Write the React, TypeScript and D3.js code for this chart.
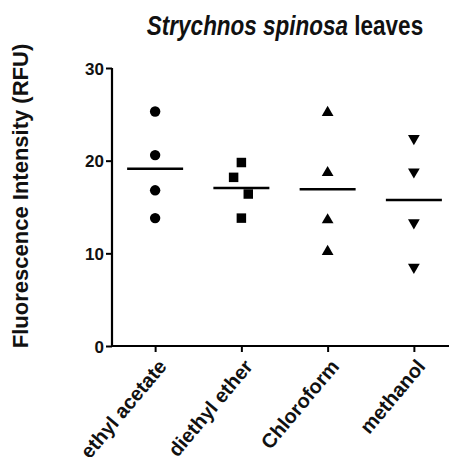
import React, { useEffect, useRef } from "react";
import * as d3 from "d3";

const categories = ["ethyl acetate", "diethyl ether", "Chloroform", "methanol"];
const ethylAcetate = [25.3, 20.6, 16.8, 13.8];
const diethylEther = [19.8, 18.2, 16.4, 13.8];
const chloroform = [25.2, 18.7, 13.6, 10.2];
const methanol = [22.4, 18.8, 13.3, 8.5];
// small sideways offsets where points overlap, in step units
const etherJitter = [0, -0.09, 0.08, 0];
const yTicks = [0, 10, 20, 30];

const W = 449;
const H = 457;
const margin = { top: 68, right: -8, bottom: 111, left: 112 };

const App = () => {
  const svgRef = useRef<SVGSVGElement>(null);

  useEffect(() => {
    const svg = d3.select(svgRef.current);
    svg.selectAll("*").remove();

    const series = [
      { name: categories[0], values: ethylAcetate, symbol: d3.symbolCircle, jitter: [0, 0, 0, 0], size: 85 },
      { name: categories[1], values: diethylEther, symbol: d3.symbolSquare, jitter: etherJitter, size: 90 },
      { name: categories[2], values: chloroform, symbol: d3.symbolTriangle, jitter: [0, 0, 0, 0], size: 60 },
      { name: categories[3], values: methanol, symbol: d3.symbolTriangle, jitter: [0, 0, 0, 0], size: 60, flip: true },
    ];

    const x = d3
      .scalePoint()
      .domain(categories)
      .range([margin.left, W - margin.right])
      .padding(0.5);

    const y = d3
      .scaleLinear()
      .domain([0, 30])
      .range([H - margin.bottom, margin.top]);

    const font = "'Liberation Sans', Arial, sans-serif";

    // y axis
    const yAxis = svg
      .append("g")
      .attr("transform", `translate(${margin.left}, 0)`)
      .call(d3.axisLeft(y).tickValues(yTicks).tickSize(6).tickPadding(2).tickSizeOuter(0));
    yAxis.select(".domain").attr("stroke-width", 2.2).attr("d", `M0,${y(30)}V${y(0) + 1}`);
    yAxis.selectAll(".tick line").attr("stroke-width", 2);
    yAxis
      .selectAll(".tick text")
      .attr("font-family", font)
      .attr("font-size", 17)
      .attr("font-weight", "bold")
      .attr("fill", "#111")
      .attr("dy", "0.36em");

    // x axis
    const xAxis = svg
      .append("g")
      .attr("transform", `translate(0, ${y(0)})`)
      .call(d3.axisBottom(x).tickSize(6).tickSizeOuter(0));
    xAxis.select(".domain").attr("stroke-width", 2.2).attr("d", `M${margin.left - 1},0H${W}`);
    xAxis.selectAll(".tick line").attr("stroke-width", 2);
    xAxis
      .selectAll(".tick text")
      .attr("font-family", font)
      .attr("font-size", 20)
      .attr("font-weight", "bold")
      .attr("fill", "#111")
      .attr("text-anchor", "end")
      .attr("dy", "0")
      .attr("y", 0)
      .attr("transform", "translate(12, 21) rotate(-50)");

    // points
    const groups = svg
      .selectAll(".grp")
      .data(series)
      .enter()
      .append("g")
      .attr("class", "grp");

    const step = x.step();
    groups
      .selectAll("path.pt")
      .data((s) => s.values.map((v, i) => ({ v, s, j: s.jitter[i] })))
      .enter()
      .append("path")
      .attr("class", "pt")
      .attr("d", (d) => d3.symbol().type(d.s.symbol).size(d.s.size)())
      .attr("transform", (d) => {
        const cx = (x(d.s.name) as number) + d.j * step;
        return `translate(${cx}, ${y(d.v)})${d.s.flip ? " rotate(180)" : ""}`;
      })
      .attr("fill", "#000");

    // mean lines
    groups
      .append("line")
      .attr("x1", (s) => (x(s.name) as number) - 28)
      .attr("x2", (s) => (x(s.name) as number) + 28)
      .attr("y1", (s) => y(d3.mean(s.values) as number))
      .attr("y2", (s) => y(d3.mean(s.values) as number))
      .attr("stroke", "#000")
      .attr("stroke-width", 2.5);

    // title
    const title = svg
      .append("text")
      .attr("transform", "translate(285, 35) scale(1, 1.2)")
      .attr("text-anchor", "middle")
      .attr("font-family", font)
      .attr("font-size", 22.5)
      .attr("font-weight", "bold")
      .attr("fill", "#111");
    title.append("tspan").attr("font-style", "italic").text("Strychnos spinosa");
    title.append("tspan").text(" leaves");

    // y label
    svg
      .append("text")
      .attr("transform", `translate(28, 196) rotate(-90)`)
      .attr("text-anchor", "middle")
      .attr("font-family", font)
      .attr("font-size", 22)
      .attr("font-weight", "bold")
      .attr("fill", "#111")
      .text("Fluorescence Intensity (RFU)");
  }, []);

  return (
    <svg
      ref={svgRef}
      width={W}
      height={H}
      style={{ position: "absolute", left: 0, top: 0, background: "#fff" }}
    ></svg>
  );
};

export default App;
